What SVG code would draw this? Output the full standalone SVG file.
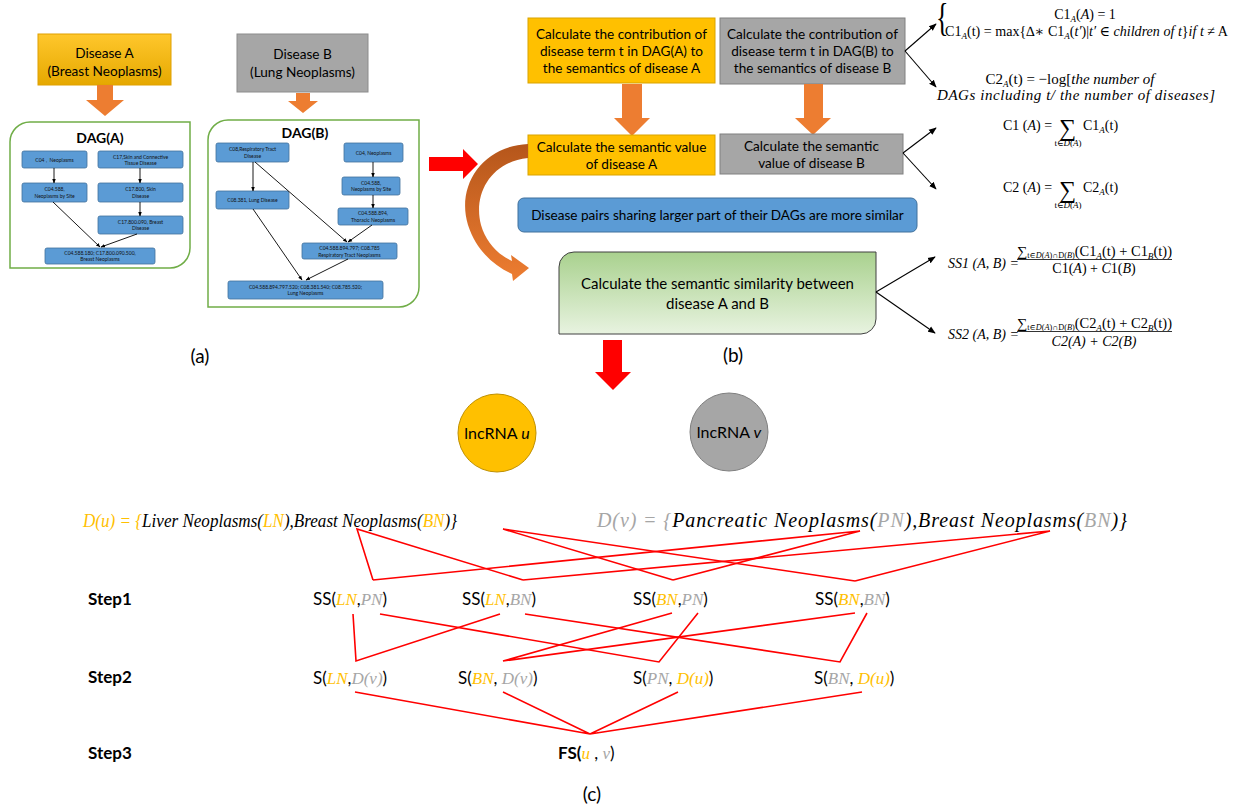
<svg xmlns="http://www.w3.org/2000/svg" width="1243" height="809" viewBox="0 0 1243 809">
<style>
text{fill:#000}
.t{font-family:Lato,"Liberation Sans",sans-serif}
.m{font-family:"Liberation Serif","DejaVu Serif",serif}
.i{font-style:italic}
.nd{fill:#5B9BD5;stroke:#41719C;stroke-width:0.8}
.nt{font-family:Lato,"Liberation Sans",sans-serif;font-size:5px;fill:#111;text-anchor:middle}
.dl{stroke:#000;stroke-width:0.9;fill:none;marker-end:url(#ah)}
.fl{stroke:#000;stroke-width:1.1;fill:none;marker-end:url(#ah2)}
.rl{stroke:#FF0000;stroke-width:1.6;fill:none}
.gold{fill:#FFC000}
.gray{fill:#A6A6A6}
.oa{fill:#ED7D31}
.ra{fill:#FF0000}
.bt{font-size:13.6px;text-anchor:middle}
.st{font-size:17px}
</style>
<defs>
<marker id="ah" viewBox="0 0 10 10" refX="9" refY="5" markerWidth="5" markerHeight="5" orient="auto"><path d="M0,1 L10,5 L0,9 Z" fill="#000"/></marker>
<marker id="ah2" viewBox="0 0 10 10" refX="9" refY="5" markerWidth="7" markerHeight="7" orient="auto"><path d="M0,1 L10,5 L0,9 Z" fill="#000"/></marker>
<linearGradient id="gA" x1="0" y1="0" x2="0" y2="1"><stop offset="0" stop-color="#FFC72C"/><stop offset="1" stop-color="#E5A800"/></linearGradient>
<linearGradient id="gG" x1="0" y1="0" x2="0" y2="1"><stop offset="0" stop-color="#A9D18E"/><stop offset="1" stop-color="#E8F3E0"/></linearGradient>
<linearGradient id="gC" x1="0" y1="0" x2="0" y2="1"><stop offset="0" stop-color="#B5561B"/><stop offset="1" stop-color="#ED7D31"/></linearGradient>
</defs>

<!-- (a) -->
<g id="diseaseA">
<rect x="38" y="34" width="133" height="51" fill="url(#gA)" stroke="#E0A000"/>
<text class="t" font-size="13.6" text-anchor="middle"><tspan x="104.5" y="58">Disease A</tspan><tspan x="104.5" y="76">(Breast Neoplasms)</tspan></text>
</g>
<g id="diseaseB">
<rect x="237" y="34" width="131" height="58" fill="#A6A6A6" stroke="#8C8C8C"/>
<text class="t" font-size="13.6" text-anchor="middle"><tspan x="302.5" y="59">Disease B</tspan><tspan x="302.5" y="77">(Lung Neoplasms)</tspan></text>
</g>
<g id="arrowsA">
<path class="oa" d="M97,85 H113 V100 H124 L105,116 L86,100 H97 Z"/>
<path class="oa" d="M296,93 H310 V101 H318 L303,113 L288,101 H296 Z"/>
</g>

<g id="dagA">
<path d="M30,122 H190 V248 A20,20 0 0 1 170,268 H10 V142 A20,20 0 0 1 30,122 Z" fill="#fff" stroke="#70AD47" stroke-width="1.5"/>
<text class="t" x="100" y="143" font-size="14" font-weight="bold" text-anchor="middle">DAG(A)</text>
<rect class="nd" x="22" y="151" width="65" height="17" rx="2"/><text class="nt" x="54.5" y="161.5">C04，Neoplasms</text>
<rect class="nd" x="98" y="151" width="85" height="17" rx="2"/><text class="nt"><tspan x="140.5" y="158.5">C17,Skin and Connective</tspan><tspan x="140.5" y="164.5">Tissue Disease</tspan></text>
<rect class="nd" x="22" y="183" width="65" height="19" rx="2"/><text class="nt"><tspan x="54.5" y="191">C04.588,</tspan><tspan x="54.5" y="197.5">Neoplasms by Site</tspan></text>
<rect class="nd" x="98" y="183" width="85" height="19" rx="2"/><text class="nt"><tspan x="140.5" y="191">C17.800, Skin</tspan><tspan x="140.5" y="197.5">Disease</tspan></text>
<rect class="nd" x="98" y="216" width="85" height="18" rx="2"/><text class="nt"><tspan x="140.5" y="223.5">C17.800.090, Breast</tspan><tspan x="140.5" y="230">Disease</tspan></text>
<rect class="nd" x="45" y="248" width="110" height="16" rx="2"/><text class="nt"><tspan x="100" y="255">C04.588.180; C17.800.090.500,</tspan><tspan x="100" y="261">Breast Neoplasms</tspan></text>
<path class="dl" d="M54,168 V183"/>
<path class="dl" d="M140,168 V183"/>
<path class="dl" d="M140,202 V216"/>
<path class="dl" d="M53,202 L100,247"/>
<path class="dl" d="M137,234 L101,247"/>
</g>

<g id="dagB">
<path d="M228,120 H419 V287 A20,20 0 0 1 399,307 H208 V140 A20,20 0 0 1 228,120 Z" fill="#fff" stroke="#70AD47" stroke-width="1.5"/>
<text class="t" x="305" y="138" font-size="14" font-weight="bold" text-anchor="middle">DAG(B)</text>
<rect class="nd" x="216" y="143" width="73" height="19" rx="2"/><text class="nt"><tspan x="252.5" y="151">C08,Respiratory Tract</tspan><tspan x="252.5" y="157.5">Disease</tspan></text>
<rect class="nd" x="344" y="143" width="59" height="19" rx="2"/><text class="nt" x="373.5" y="154.5">C04, Neoplasms</text>
<rect class="nd" x="216" y="191" width="73" height="18" rx="2"/><text class="nt" x="252.5" y="202">C08.381, Lung Disease</text>
<rect class="nd" x="342" y="177" width="58" height="18" rx="2"/><text class="nt"><tspan x="371" y="184.5">C04.588,</tspan><tspan x="371" y="191">Neoplasms by Site</tspan></text>
<rect class="nd" x="338" y="208" width="70" height="17" rx="2"/><text class="nt"><tspan x="373" y="215">C04.588.894,</tspan><tspan x="373" y="221.5">Thoracic Neoplasms</tspan></text>
<rect class="nd" x="302" y="243" width="95" height="16" rx="2"/><text class="nt"><tspan x="349.5" y="250">C04.588.894.797; C08.785</tspan><tspan x="349.5" y="256.5">Respiratory Tract Neoplasms</tspan></text>
<rect class="nd" x="228" y="281" width="155" height="18" rx="2"/><text class="nt"><tspan x="305.5" y="288.5">C04.588.894.797.520; C08.381.540; C08.785.520;</tspan><tspan x="305.5" y="295">Lung Neoplasms</tspan></text>
<path class="dl" d="M253,162 V191"/>
<path class="dl" d="M255,162 L347,242"/>
<path class="dl" d="M373,162 V177"/>
<path class="dl" d="M373,195 V208"/>
<path class="dl" d="M372,225 L348,242"/>
<path class="dl" d="M253,209 L302,280"/>
<path class="dl" d="M348,259 L306,280"/>
</g>

<text class="t" x="200" y="363" font-size="19" text-anchor="middle">(a)</text>

<g id="redRight"><path class="ra" d="M429,157 H463 V149 L478,164 L463,179 V171 H429 Z"/></g>

<!-- (b) -->
<g id="contribA">
<rect x="528" y="18" width="187" height="65" class="gold" stroke="#D9A300"/>
<text class="t bt"><tspan x="621.5" y="39">Calculate the contribution of</tspan><tspan x="621.5" y="56">disease term t in DAG(A) to</tspan><tspan x="621.5" y="73">the semantics of disease A</tspan></text>
</g>
<g id="contribB">
<rect x="720" y="18" width="185" height="66" class="gray" stroke="#808080"/>
<text class="t bt"><tspan x="812.5" y="39">Calculate the contribution of</tspan><tspan x="812.5" y="56">disease term t in DAG(B) to</tspan><tspan x="812.5" y="73">the semantics of disease B</tspan></text>
</g>
<g id="arrowsB">
<path class="oa" d="M622,84 H642 V118 H650 L632,136 L614,118 H622 Z"/>
<path class="oa" d="M804,84 H823 V118 H831 L813,135 L795,118 H804 Z"/>
</g>
<g id="valueA">
<rect x="528" y="135" width="187" height="40" class="gold" stroke="#D9A300"/>
<text class="t bt"><tspan x="621.5" y="152">Calculate the semantic value</tspan><tspan x="621.5" y="169">of disease A</tspan></text>
</g>
<g id="valueB">
<rect x="720" y="134" width="183" height="40" class="gray" stroke="#808080"/>
<text class="t bt"><tspan x="811.5" y="151">Calculate the semantic</tspan><tspan x="811.5" y="168">value of disease B</tspan></text>
</g>
<g id="pairs">
<rect x="518" y="198" width="399" height="34" rx="6" fill="#5B9BD5" stroke="#41719C"/>
<text class="t bt" x="717.5" y="220">Disease pairs sharing larger part of their DAGs are more similar</text>
</g>
<g id="curveArrow">
<path d="M528,144 C482,146 456,186 468,225 C476,250 494,266 512,274 L513,281 L529,268 L511,255 L512,261 C497,254 486,242 481,225 C473,195 490,162 528,158 Z" fill="url(#gC)"/>
</g>
<g id="similarity">
<path d="M574,252 H876 V319 A15,15 0 0 1 861,334 H559 V267 A15,15 0 0 1 574,252 Z" fill="url(#gG)" stroke="#404040"/>
<text class="t" font-size="15" text-anchor="middle"><tspan x="717.5" y="289">Calculate the semantic similarity between</tspan><tspan x="717.5" y="309">disease A and B</tspan></text>
</g>

<g id="formulaLinks">
<path class="fl" d="M905,51 L936,24"/>
<path class="fl" d="M905,51 L936,87"/>
<path class="fl" d="M903,153 L936,128"/>
<path class="fl" d="M903,153 L936,189"/>
<path class="fl" d="M876,292 L935,257"/>
<path class="fl" d="M876,292 L935,333"/>
</g>

<g id="formulas" font-size="14">
<text class="m" transform="translate(936,1) scale(1,1.5)" x="0" y="20" font-size="26">{</text>
<text class="m" x="1085" y="19" text-anchor="middle">C1<tspan font-size="9" class="i" dy="3">A</tspan><tspan dy="-3">(</tspan><tspan class="i">A</tspan>) = 1</text>
<text class="m" x="945" y="36" textLength="283" lengthAdjust="spacingAndGlyphs">C1<tspan font-size="9" class="i" dy="3">A</tspan><tspan dy="-3">(t) = max{∆∗ C1</tspan><tspan font-size="9" class="i" dy="3">A</tspan><tspan dy="-3">(</tspan><tspan class="i">t′</tspan>)|<tspan class="i">t′</tspan> ∈ <tspan class="i">children of t</tspan>}<tspan class="i">if t</tspan>  ≠  A</text>
<text class="m" x="1070" y="84" font-size="15" text-anchor="middle">C2<tspan font-size="9" class="i" dy="3">A</tspan><tspan dy="-3">(t) = −log[</tspan><tspan class="i">the number of</tspan></text>
<text class="m i" x="937" y="100" font-size="15" textLength="278" lengthAdjust="spacing">DAGs including t/  the number of diseases]</text>

<text class="m" x="1003" y="130">C1 (<tspan class="i">A</tspan>) =</text>
<text class="m" x="1059" y="136" font-size="24">∑</text>
<text class="m" x="1083" y="130">C1<tspan font-size="9" class="i" dy="3">A</tspan><tspan dy="-3">(t)</tspan></text>
<text class="m" x="1068" y="146" font-size="9" text-anchor="middle">t∈<tspan class="i">D</tspan>(<tspan class="i">A</tspan>)</text>

<text class="m" x="1003" y="192">C2 (<tspan class="i">A</tspan>) =</text>
<text class="m" x="1059" y="198" font-size="24">∑</text>
<text class="m" x="1083" y="192">C2<tspan font-size="9" class="i" dy="3">A</tspan><tspan dy="-3">(t)</tspan></text>
<text class="m" x="1068" y="208" font-size="9" text-anchor="middle">t∈<tspan class="i">D</tspan>(<tspan class="i">A</tspan>)</text>

<text class="m i" x="948" y="268">SS1 (A, B) =</text>
<text class="m" x="1017" y="256" textLength="155" lengthAdjust="spacingAndGlyphs">∑<tspan font-size="8" dy="2">t∈<tspan class="i">D</tspan>(<tspan class="i">A</tspan>)∩D(<tspan class="i">B</tspan>)</tspan><tspan dy="-2">(C1</tspan><tspan font-size="9" class="i" dy="3">A</tspan><tspan dy="-3">(t) + C1</tspan><tspan font-size="9" class="i" dy="3">B</tspan><tspan dy="-3">(t))</tspan></text>
<line x1="1017" y1="259.5" x2="1172" y2="259.5" stroke="#000" stroke-width="0.8"/>
<text class="m" x="1094" y="273" text-anchor="middle">C1(<tspan class="i">A</tspan>) + <tspan class="i">C</tspan>1(<tspan class="i">B</tspan>)</text>

<text class="m i" x="948" y="339">SS2 (A, B) =</text>
<text class="m" x="1017" y="328" textLength="155" lengthAdjust="spacingAndGlyphs">∑<tspan font-size="8" dy="2">t∈<tspan class="i">D</tspan>(<tspan class="i">A</tspan>)∩D(<tspan class="i">B</tspan>)</tspan><tspan dy="-2">(C2</tspan><tspan font-size="9" class="i" dy="3">A</tspan><tspan dy="-3">(t) + C2</tspan><tspan font-size="9" class="i" dy="3">B</tspan><tspan dy="-3">(t))</tspan></text>
<line x1="1017" y1="331.5" x2="1172" y2="331.5" stroke="#000" stroke-width="0.8"/>
<text class="m i" x="1094" y="346" text-anchor="middle">C2(A) + C2(B)</text>
</g>

<text class="t" x="733" y="362" font-size="19" text-anchor="middle">(b)</text>

<g id="redDown"><path class="ra" d="M603,340 H622 V372 H631 L613,390 L595,372 H603 Z"/></g>

<g id="lncU">
<circle cx="497" cy="433" r="39" fill="#FFC000" stroke="#BF9000"/>
<text class="t" x="497" y="439" font-size="16" text-anchor="middle">lncRNA <tspan font-style="italic">u</tspan></text>
</g>
<g id="lncV">
<circle cx="729" cy="432" r="39" fill="#A6A6A6" stroke="#7F7F7F"/>
<text class="t" x="729" y="438" font-size="16" text-anchor="middle">lncRNA <tspan font-style="italic">v</tspan></text>
</g>

<!-- (c) -->
<g id="connectors">
<path class="rl" d="M373,580 L357,529 L523,580"/>
<path class="rl" d="M673,580 L503,529 L855,581"/>
<path class="rl" d="M373,580 L860,531 L673,580"/>
<path class="rl" d="M523,580 L1050,531 L855,581"/>
<path class="rl" d="M353,614 L356,661 L500,614"/>
<path class="rl" d="M672,613 L503,661 L855,613"/>
<path class="rl" d="M380,614 L659,662 L698,613"/>
<path class="rl" d="M525,614 L840,662 L867,613"/>
<path class="rl" d="M355,692 L590,734 L503,692"/>
<path class="rl" d="M678,692 L590,734 L862,692"/>
</g>

<g id="Du">
<text class="m i" x="83" y="527" font-size="19" textLength="374" lengthAdjust="spacingAndGlyphs"><tspan fill="#FFC000">D(u) = {</tspan>Liver Neoplasms(<tspan fill="#FFC000">LN</tspan>),Breast Neoplasms(<tspan fill="#FFC000">BN</tspan>)}</text>
</g>
<g id="Dv">
<text class="m i" x="597" y="527" font-size="20" textLength="530" lengthAdjust="spacing"><tspan fill="#A6A6A6">D(v) = {</tspan>Pancreatic Neoplasms(<tspan fill="#A6A6A6">PN</tspan>),Breast Neoplasms(<tspan fill="#A6A6A6">BN</tspan>)}</text>
</g>

<text class="t" x="88" y="605" font-size="17" font-weight="bold">Step1</text>
<text class="t" x="88" y="683" font-size="17" font-weight="bold">Step2</text>
<text class="t" x="88" y="759" font-size="17" font-weight="bold">Step3</text>

<g id="ss1"><text class="t st" x="313" y="605">SS(<tspan class="m i" fill="#FFC000">LN</tspan>,<tspan class="m i" fill="#A6A6A6">PN</tspan>)</text></g>
<g id="ss2"><text class="t st" x="462" y="605">SS(<tspan class="m i" fill="#FFC000">LN</tspan>,<tspan class="m i" fill="#A6A6A6">BN</tspan>)</text></g>
<g id="ss3"><text class="t st" x="633" y="605">SS(<tspan class="m i" fill="#FFC000">BN</tspan>,<tspan class="m i" fill="#A6A6A6">PN</tspan>)</text></g>
<g id="ss4"><text class="t st" x="815" y="605">SS(<tspan class="m i" fill="#FFC000">BN</tspan>,<tspan class="m i" fill="#A6A6A6">BN</tspan>)</text></g>

<g id="s1"><text class="t st" x="313" y="684">S(<tspan class="m i" fill="#FFC000">LN</tspan>,<tspan class="m i" fill="#A6A6A6">D(v)</tspan>)</text></g>
<g id="s2"><text class="t st" x="458" y="684">S(<tspan class="m i" fill="#FFC000">BN</tspan>, <tspan class="m i" fill="#A6A6A6">D(v)</tspan>)</text></g>
<g id="s3"><text class="t st" x="633" y="684">S(<tspan class="m i" fill="#A6A6A6">PN</tspan>, <tspan class="m i" fill="#FFC000">D(u)</tspan>)</text></g>
<g id="s4"><text class="t st" x="814" y="684">S(<tspan class="m i" fill="#A6A6A6">BN</tspan>, <tspan class="m i" fill="#FFC000">D(u)</tspan>)</text></g>

<g id="fs"><text class="t st" x="558" y="759" font-weight="bold">FS(<tspan class="m i" font-weight="normal" fill="#FFC000">u</tspan><tspan font-weight="normal"> , </tspan><tspan class="m i" font-weight="normal" fill="#A6A6A6">v</tspan><tspan font-weight="normal">)</tspan></text></g>

<text class="t" x="592" y="801" font-size="19" text-anchor="middle">(c)</text>
</svg>
